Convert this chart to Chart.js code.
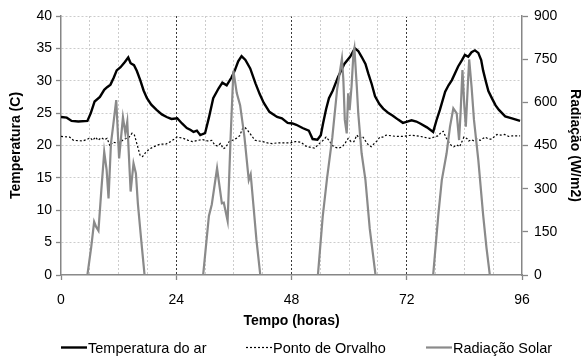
<!DOCTYPE html>
<html>
<head>
<meta charset="utf-8">
<script src="https://cdn.jsdelivr.net/npm/chart.js@4/dist/chart.umd.min.js"></script>
<style>
  body { margin: 0; background: #fff; }
  #wrap { width: 581px; height: 358px; }
</style>
</head>
<body>
<div id="wrap"><canvas id="chart" width="581" height="358"></canvas></div>
<script>
// hourly station record, 4 days
const tempHours = [0, 1.2, 2.2, 3.6, 5.5, 6.2, 7.0, 8.1, 9.0, 9.6, 10.3, 11.0, 11.6, 12.4, 13.3, 14.0, 14.5, 15.2, 15.8, 16.5, 17.2, 17.9, 18.8, 19.9, 21.0, 22.0, 23.0, 24.2,
  25.2, 26.2, 27.0, 27.6, 28.3, 29.0, 30.0, 30.8, 31.7, 32.8, 33.6, 34.5, 35.5, 36.2, 36.9, 37.6, 38.4, 39.4, 40.5, 41.4, 42.2, 43.4, 45.0, 46.0, 47.2, 48.2,
  49.0, 50.3, 51.6, 52.4, 53.4, 54.1, 54.6, 55.2, 55.8, 56.6, 57.7, 59.0, 60.2, 61.2, 61.9, 62.6, 63.4, 64.0, 64.7, 65.4, 66.3, 67.1, 68.2, 69.1, 70.2, 71.2,
  72.1, 73.0, 74.0, 74.8, 76.2, 77.5, 78.2, 78.9, 80.0, 80.7, 81.4, 82.7, 83.5, 84.1, 84.8, 85.5, 86.2, 86.9, 87.5, 87.9, 88.5, 89.0, 89.8, 90.5, 91.2, 92.5, 93.9, 95.6];
const tempValues = [24.4, 24.3, 23.8, 23.7, 23.8, 25.0, 26.8, 27.5, 28.6, 29.0, 29.4, 30.5, 31.6, 32.1, 32.9, 33.6, 32.7, 32.4, 31.5, 30.1, 28.5, 27.3, 26.3, 25.5, 24.8, 24.4, 24.1, 24.2,
  23.4, 22.7, 22.4, 22.1, 22.3, 21.6, 21.9, 24.3, 27.3, 28.8, 29.7, 29.3, 30.5, 31.6, 33.0, 33.8, 33.2, 31.9, 29.6, 27.9, 26.6, 25.2, 24.4, 24.2, 23.5, 23.4,
  23.2, 22.7, 22.3, 21.0, 20.9, 21.6, 23.5, 25.6, 27.3, 28.5, 30.6, 32.6, 33.7, 35.0, 34.6, 33.7, 32.6, 31.1, 29.5, 27.6, 26.4, 25.7, 25.0, 24.6, 24.0, 23.5,
  23.7, 23.9, 23.7, 23.4, 22.8, 22.1, 23.9, 25.5, 28.3, 29.3, 30.1, 32.2, 33.2, 34.0, 33.7, 34.4, 34.7, 34.3, 33.2, 31.6, 29.8, 28.4, 27.2, 26.2, 25.5, 24.5, 24.2, 23.8];

const dewHours = [0, 1.8, 2.6, 4.5, 5.6, 6.1, 6.6, 7.2, 7.7, 8.4, 9.0, 9.6, 10.2, 10.8, 11.6, 12.4, 13.3, 14.2, 14.8, 15.3, 15.9, 16.5, 17.0, 17.6, 18.5, 19.6, 20.6, 21.8, 22.8, 24.2,
  25.5, 26.5, 27.4, 28.5, 29.5, 30.5, 31.4, 32.0, 32.6, 33.2, 33.8, 34.3, 35.0, 35.7, 36.5, 37.2, 37.8, 38.3, 38.9, 39.6, 40.4, 41.2, 42.0, 43.0, 44.0, 45.0, 46.5, 47.8,
  48.8, 50.0, 51.0, 52.0, 52.8, 53.8, 54.6, 55.2, 55.8, 56.5, 57.2, 57.8, 58.6, 59.2, 59.8, 60.4, 61.0, 61.6, 62.2, 62.8, 63.4, 64.0, 64.6, 65.2, 65.8, 66.4, 67.0, 67.7, 68.8, 69.8, 71.0,
  72.0, 73.0, 74.8, 76.8, 77.9, 78.6, 79.1, 79.6, 80.2, 80.7, 81.3, 81.8, 82.4, 83.0, 83.5, 83.9, 84.5, 84.9, 85.5, 86.0, 86.6, 87.3, 88.3, 89.0, 89.7, 90.3, 90.8, 91.6, 92.4, 93.2, 94.0, 94.8, 95.6];
const dewValues = [21.4, 21.3, 20.8, 20.7, 21.0, 21.2, 20.8, 21.3, 20.8, 21.2, 20.9, 21.1, 19.9, 20.5, 20.4, 20.6, 21.0, 21.3, 21.9, 21.6, 20.0, 18.4, 18.3, 18.9, 19.5, 19.9, 20.2, 20.2, 20.6, 21.3,
  21.1, 20.8, 20.6, 20.8, 20.9, 20.7, 20.8, 20.1, 19.9, 20.3, 19.5, 19.7, 20.6, 20.8, 21.1, 21.5, 22.6, 22.8, 22.3, 21.6, 20.8, 20.7, 20.6, 20.4, 20.3, 20.4, 20.4, 20.4,
  20.6, 20.5, 19.9, 19.7, 19.6, 20.3, 20.8, 21.3, 20.8, 20.0, 19.7, 19.6, 19.8, 20.4, 21.1, 20.6, 20.6, 21.6, 21.1, 21.4, 20.7, 20.1, 19.8, 20.3, 20.7, 21.3, 21.3, 21.6, 21.5, 21.4, 21.4,
  21.5, 21.6, 21.4, 21.1, 21.35, 21.5, 22.0, 22.2, 21.2, 20.6, 20.0, 19.8, 20.1, 19.8, 20.6, 21.3, 21.1, 20.7, 20.9, 20.7, 21.0, 20.8, 21.3, 21.0, 21.0, 21.4, 21.7, 21.6, 21.7, 21.4, 21.5, 21.5, 21.5];

const radHours = [0, 5.5, 6.3, 6.9, 7.3, 7.8, 8.4, 9.0, 9.5, 9.9, 10.4, 10.8, 11.5, 12.1, 12.9, 13.4, 13.8, 14.5, 15.1, 15.6, 16.0, 16.7, 17.4,
  29.6, 30.8, 31.4, 32.5, 33.5, 33.9, 34.7, 35.3, 35.9, 36.6, 37.3, 38.2, 39.1, 39.5, 40.1, 40.7, 41.5,
  53.5, 54.5, 55.4, 56.5, 57.5, 58.5, 58.8, 59.1, 59.5, 59.8, 60.1, 60.5, 60.9, 61.1, 61.6, 61.9, 62.6, 63.4, 64.3, 65.5,
  77.5, 78.6, 79.3, 80.3, 81.0, 81.7, 82.4, 82.9, 83.2, 83.6, 84.0, 84.3, 84.7, 85.0, 85.5, 86.0, 86.9, 87.9, 88.6, 89.3, 96];
const radValues = [0, 0, 98, 185, 168, 154, 295, 428, 365, 266, 457, 510, 608, 405, 548, 493, 533, 290, 388, 353, 250, 122, 0,
  0, 205, 245, 371, 249, 251, 188, 469, 710, 632, 590, 480, 330, 350, 237, 122, 0,
  0, 203, 336, 478, 645, 752, 678, 539, 492, 631, 573, 654, 770, 788, 654, 562, 423, 330, 160, 0,
  0, 214, 330, 423, 515, 579, 562, 469, 560, 712, 585, 515, 654, 749, 654, 539, 400, 210, 95, 0, 0];

const gridHours = [0, 6, 12, 18, 24, 30, 36, 42, 48, 54, 60, 66, 72, 78, 84, 90, 96];
const hourTicks = [0, 24, 48, 72, 96];
const tempTicks = [0, 5, 10, 15, 20, 25, 30, 35, 40];
const radTicks = [0, 150, 300, 450, 600, 750, 900];

const axisGray = '#868686';
const family = '"Liberation Sans", Arial, sans-serif';
const tickFont = { family: family, size: 14 };
const titleFont = { family: family, size: 14, weight: 'bold' };

function toPoints(xs, ys) {
  return xs.map((h, i) => ({ x: h, y: ys[i] }));
}

function fixedTicks(values) {
  return scale => { scale.ticks = values.map(v => ({ value: v })); };
}

// legend row under the axis title, drawn by hand so the spacing is fixed
const legendRow = {
  id: 'legendRow',
  afterDraw(chart) {
    const ctx = chart.ctx;
    const starts = [61, 246, 426];
    const names = ['Temperatura do ar', 'Ponto de Orvalho', 'Radiação Solar'];
    const y = 347.5;
    ctx.save();
    names.forEach((name, i) => {
      const ds = chart.data.datasets.find(d => d.label === name);
      ctx.beginPath();
      ctx.setLineDash(ds.borderDash || []);
      ctx.lineWidth = ds.borderWidth;
      ctx.strokeStyle = ds.borderColor;
      ctx.moveTo(starts[i], y);
      ctx.lineTo(starts[i] + 26, y);
      ctx.stroke();
      ctx.setLineDash([]);
      ctx.fillStyle = '#000';
      ctx.font = '14.5px ' + family;
      ctx.textBaseline = 'alphabetic';
      ctx.fillText(name, starts[i] + 27, 352.5);
    });
    ctx.restore();
  }
};

const ctx = document.getElementById('chart').getContext('2d');
new Chart(ctx, {
  type: 'line',
  data: {
    datasets: [
      {
        label: 'Radiação Solar',
        data: toPoints(radHours, radValues),
        yAxisID: 'y2',
        borderColor: '#8a8a8a',
        borderWidth: 2.2,
        order: 0
      },
      {
        label: 'Temperatura do ar',
        data: toPoints(tempHours, tempValues),
        yAxisID: 'y',
        borderColor: '#000',
        borderWidth: 2.4,
        order: 1
      },
      {
        label: 'Ponto de Orvalho',
        data: toPoints(dewHours, dewValues),
        yAxisID: 'y',
        borderColor: '#000',
        borderWidth: 1.2,
        borderDash: [2, 2],
        order: 2
      }
    ]
  },
  options: {
    responsive: false,
    animation: false,
    devicePixelRatio: 1,
    elements: {
      point: { radius: 0 },
      line: { tension: 0, fill: false }
    },
    layout: { padding: { top: 16, bottom: 25, left: 0, right: 0 } },
    plugins: {
      legend: { display: false },
      tooltip: { enabled: false }
    },
    scales: {
      x: {
        type: 'linear',
        min: 0,
        max: 96,
        afterBuildTicks: fixedTicks(gridHours),
        afterFit: s => { s.height = 58; },
        ticks: {
          autoSkip: false,
          maxRotation: 0,
          padding: 12,
          color: '#000',
          font: tickFont,
          callback: v => hourTicks.includes(v) ? String(v) : ''
        },
        grid: {
          color: c => {
            const v = c.tick ? c.tick.value : -1;
            if (v === 0 || v === 96) return 'transparent';
            return hourTicks.includes(v) ? '#3a3a3a' : '#cccccc';
          },
          lineWidth: 1,
          tickLength: 5,
          tickWidth: 1.3,
          tickColor: c => (c.tick && hourTicks.includes(c.tick.value)) ? axisGray : 'transparent'
        },
        border: { color: axisGray, width: 1.5, dash: [2, 2] },
        title: {
          display: true,
          text: 'Tempo (horas)',
          color: '#000',
          font: titleFont,
          padding: { top: 0, bottom: 3 }
        }
      },
      y: {
        position: 'left',
        min: 0,
        max: 40,
        afterBuildTicks: fixedTicks(tempTicks),
        afterFit: s => { s.width = 61; },
        ticks: { color: '#000', font: tickFont, padding: 4 },
        grid: {
          color: c => (c.tick && c.tick.value === 0) ? 'transparent' : '#cccccc',
          lineWidth: 1,
          tickLength: 5,
          tickWidth: 1.3,
          tickColor: axisGray
        },
        border: { color: axisGray, width: 1.5, dash: [2, 2] },
        title: {
          display: true,
          text: 'Temperatura (C)',
          color: '#000',
          font: titleFont,
          padding: { top: 7.6, bottom: 0 }
        }
      },
      y2: {
        position: 'right',
        min: 0,
        max: 900,
        afterBuildTicks: fixedTicks(radTicks),
        afterFit: s => { s.width = 59; },
        ticks: { color: '#000', font: tickFont, padding: 6 },
        grid: {
          drawOnChartArea: false,
          tickLength: 6,
          tickWidth: 1.3,
          tickColor: axisGray
        },
        border: { color: axisGray, width: 1.5 },
        title: {
          display: true,
          text: 'Radiação (W/m2)',
          color: '#000',
          font: titleFont,
          padding: { top: -2.4, bottom: 0 }
        }
      }
    }
  },
  plugins: [legendRow]
});
</script>
</body>
</html>
